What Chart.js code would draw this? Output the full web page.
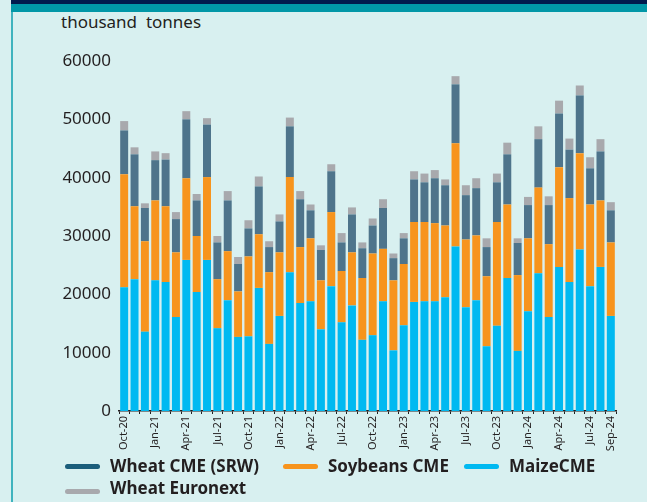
<!DOCTYPE html>
<html lang="en">
<head>
    <meta charset="UTF-8">
    <title>Futures volumes</title>
    <script src="https://cdn.jsdelivr.net/npm/chart.js"></script>
    <style>
        body {
            margin: 0;
            width: 647px;
            height: 502px;
            background-color: #d8f0f0;
            font-family: "Noto Sans", sans-serif;
            color: #231f20;
            position: relative;
            overflow: hidden;
        }
        .band-top { position: absolute; left: 11px; top: 0; right: 0; height: 4px; background: #001a4d; }
        .band-teal { position: absolute; left: 11px; top: 4px; right: 0; height: 8px; background: #0097a7; }
        .band-left { position: absolute; left: 11px; top: 12px; bottom: 0; width: 2px; background: #3fb3be; }
        .unit { position: absolute; left: 61px; top: 10px; font-size: 17px; }
        #wrap { position: absolute; left: 0; top: 0; width: 647px; height: 460px; }
        .legend-item { position: absolute; font-size: 17px; font-weight: bold; line-height: 20px; white-space: nowrap; }
        .legend-item .mark {
            position: absolute; left: -45px; top: 8px; width: 35px; height: 5px; border-radius: 3px;
        }
    </style>
</head>
<body>
    <div class="band-top"></div>
    <div class="band-teal"></div>
    <div class="band-left"></div>
    <div class="unit">thousand&nbsp; tonnes</div>

    <div id="wrap"><canvas id="chart"></canvas></div>

    <div class="legend-item" style="left:110px; top:456px;"><span class="mark" style="background:#1b5e7b"></span>Wheat CME (SRW)</div>
    <div class="legend-item" style="left:328px; top:456px;"><span class="mark" style="background:#f7941d"></span>Soybeans CME</div>
    <div class="legend-item" style="left:509px; top:456px;"><span class="mark" style="background:#00b9f1"></span>MaizeCME</div>
    <div class="legend-item" style="left:110px; top:478px;"><span class="mark" style="background:#a8a9ad; top:11px"></span>Wheat Euronext</div>

    <script>
        const months = [
            'Oct-20', 'Nov-20', 'Dec-20', 'Jan-21', 'Feb-21', 'Mar-21', 'Apr-21', 'May-21', 'Jun-21',
            'Jul-21', 'Aug-21', 'Sep-21', 'Oct-21', 'Nov-21', 'Dec-21', 'Jan-22', 'Feb-22', 'Mar-22',
            'Apr-22', 'May-22', 'Jun-22', 'Jul-22', 'Aug-22', 'Sep-22', 'Oct-22', 'Nov-22', 'Dec-22',
            'Jan-23', 'Feb-23', 'Mar-23', 'Apr-23', 'May-23', 'Jun-23', 'Jul-23', 'Aug-23', 'Sep-23',
            'Oct-23', 'Nov-23', 'Dec-23', 'Jan-24', 'Feb-24', 'Mar-24', 'Apr-24', 'May-24', 'Jun-24',
            'Jul-24', 'Aug-24', 'Sep-24'
        ];

        // thousand tonnes
        const maizeCME = [
            21200, 22600, 13600, 22400, 22100, 16100, 25900, 20400, 25900, 14200, 19000, 12700,
            12800, 21100, 11500, 16300, 23800, 18500, 18800, 14000, 21400, 15200, 18100, 12200,
            13000, 18800, 10400, 14700, 18700, 18800, 18800, 19500, 28200, 17800, 19000, 11100,
            14600, 22800, 10300, 17100, 23600, 16100, 24700, 22100, 27700, 21400, 24700, 16300
        ];
        const soybeansCME = [
            19400, 12500, 15500, 13700, 13000, 11100, 14000, 9600, 14200, 8400, 8400, 7800,
            13700, 9200, 12300, 10900, 16300, 9600, 10800, 8400, 12700, 8800, 9100, 10600,
            14000, 9000, 12000, 10500, 13700, 13600, 13400, 12300, 17700, 11600, 11100, 12000,
            17800, 12600, 13000, 12500, 14700, 12500, 17100, 14400, 16500, 14000, 11400, 12600
        ];
        const wheatCME = [
            7500, 8900, 5700, 6900, 8000, 5700, 10100, 6100, 9000, 6300, 8700, 4700,
            4800, 8200, 4300, 5300, 8700, 8200, 4800, 5200, 7000, 4900, 6500, 5100,
            4800, 7000, 3800, 4400, 7300, 6800, 7700, 6900, 10100, 7600, 8100, 5000,
            6800, 8600, 5500, 5700, 8300, 6700, 9200, 8300, 9900, 6200, 8400, 5500
        ];
        const wheatEuronext = [
            1600, 1200, 800, 1500, 1100, 1200, 1400, 1100, 1100, 1100, 1600, 1200,
            1400, 1700, 1000, 1200, 1500, 1400, 1000, 800, 1200, 1600, 1200, 1000,
            1200, 1500, 800, 900, 1400, 1500, 1400, 1000, 1400, 1700, 1700, 1500,
            1500, 2000, 800, 1400, 2200, 1500, 2200, 1900, 1700, 1900, 2100, 1400
        ];

        const yTicks = [0, 10000, 20000, 30000, 40000, 50000, 60000];

        const barStyle = { barPercentage: 0.77, categoryPercentage: 1.0, borderWidth: 0 };

        new Chart(document.getElementById('chart').getContext('2d'), {
            type: 'bar',
            data: {
                labels: months,
                datasets: [
                    { label: 'MaizeCME', data: maizeCME, backgroundColor: '#00b9f1', ...barStyle },
                    { label: 'Soybeans CME', data: soybeansCME, backgroundColor: '#f7941d', ...barStyle },
                    { label: 'Wheat CME (SRW)', data: wheatCME, backgroundColor: '#4e748b', ...barStyle },
                    { label: 'Wheat Euronext', data: wheatEuronext, backgroundColor: '#a8a9ad', ...barStyle }
                ]
            },
            options: {
                responsive: true,
                maintainAspectRatio: false,
                animation: false,
                layout: { padding: { left: 0, right: 31, top: 61, bottom: 0 } },
                plugins: {
                    legend: { display: false },
                    tooltip: { enabled: false }
                },
                scales: {
                    x: {
                        stacked: true,
                        afterFit: s => { s.height = 49; },
                        grid: {
                            display: true, drawOnChartArea: false, drawTicks: true,
                            tickLength: 3, color: '#231f20', offset: true
                        },
                        border: { display: true, color: '#231f20', width: 1.5 },
                        ticks: {
                            autoSkip: false,
                            minRotation: 90,
                            maxRotation: 90,
                            padding: 2,
                            color: '#231f20',
                            font: { family: 'Noto Sans', size: 11 },
                            callback: (v, i) => (i % 3 === 0 || i === months.length - 1) ? months[i] : ''
                        }
                    },
                    y: {
                        stacked: true,
                        min: 0,
                        max: 60000,
                        afterFit: s => { s.width = 119; },
                        afterBuildTicks: s => { s.ticks = yTicks.map(v => ({ value: v })); },
                        grid: { display: false },
                        border: { display: false },
                        ticks: {
                            padding: 0,
                            color: '#231f20',
                            font: { family: 'Noto Sans', size: 17 },
                            callback: v => String(v)
                        }
                    }
                }
            }
        });
    </script>
</body>
</html>
